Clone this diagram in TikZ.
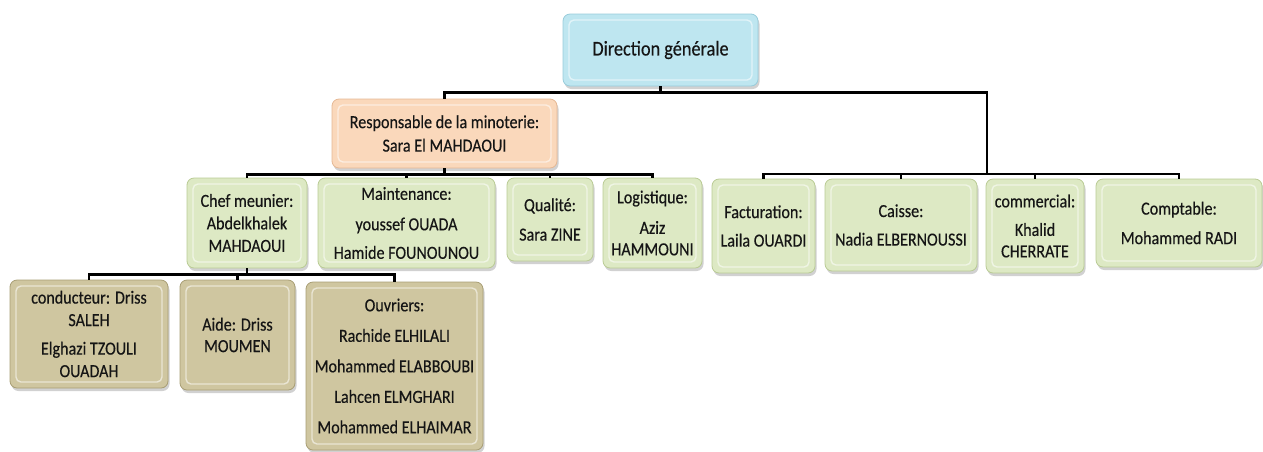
\documentclass[tikz,border=0pt]{standalone}
\usepackage{fontspec}
\setmainfont[FakeStretch=0.87, FakeBold=0.35]{Carlito}
\usetikzlibrary{shadows,calc}
\definecolor{dgfill}{HTML}{BEE6F0}
\definecolor{dgdraw}{HTML}{98CCDA}
\definecolor{rsfill}{HTML}{FAD8BB}
\definecolor{rsdraw}{HTML}{E5B894}
\definecolor{grfill}{HTML}{DDE9C4}
\definecolor{grdraw}{HTML}{B9CB94}
\definecolor{khfill}{HTML}{CFC6A0}
\definecolor{khdraw}{HTML}{A89E74}
\definecolor{txt}{HTML}{151515}
\tikzset{
  box/.style={rectangle, rounded corners=7pt, line width=0.8pt, inner sep=2pt,
    align=center, text=txt, font=\fontsize{18.5}{21.5}\selectfont,
    drop shadow={shadow xshift=1.5pt, shadow yshift=-3pt, opacity=0.3, fill=black!60},
    path picture={
      \draw[white, opacity=0.55, line width=1.4pt, rounded corners=5pt]
        ($(path picture bounding box.south west)+(6pt,6pt)$) rectangle
        ($(path picture bounding box.north east)+(-6pt,-6pt)$);
    }},
  dgbox/.style={box, fill=dgfill, draw=dgdraw, font=\fontsize{21}{24}\selectfont},
  rsbox/.style={box, fill=rsfill, draw=rsdraw},
  grbox/.style={box, fill=grfill, draw=grdraw},
  khbox/.style={box, fill=khfill, draw=khdraw},
  link/.style={draw=black, line width=2.6pt},
}
\begin{document}
\begin{tikzpicture}[x=1pt, y=-1pt]
\useasboundingbox (0,0) rectangle (1263,451);
% top
\node[dgbox, minimum width=195pt, minimum height=72pt] (dg) at (660.5,50) {Direction générale};
\node[rsbox, minimum width=225pt, minimum height=69pt] (rs) at (444.5,133.5) {Responsable de la minoterie:\\[2pt]Sara El MAHDAOUI};
% level 2 left
\node[grbox, minimum width=120pt, minimum height=90pt] (chef) at (247,223) {Chef meunier:\\[1pt]Abdelkhalek\\[1pt]MAHDAOUI};
\node[grbox, minimum width=177pt, minimum height=90pt] (maint) at (406.5,223) {Maintenance:\\[9pt]youssef OUADA\\[7pt]Hamide FOUNOUNOU};
\node[grbox, minimum width=86pt, minimum height=83pt] (qual) at (550,219.5) {Qualité:\\[8pt]Sara ZINE};
\node[grbox, minimum width=99pt, minimum height=90pt] (logi) at (652.5,223) {Logistique:\\[9pt]Aziz\\HAMMOUNI};
% level 2 right
\node[grbox, minimum width=103pt, minimum height=94pt] (fact) at (763.5,226) {Facturation:\\[7pt]Laila OUARDI};
\node[grbox, minimum width=152pt, minimum height=92pt] (caisse) at (901,225) {Caisse:\\[7pt]Nadia ELBERNOUSSI};
\node[grbox, minimum width=98pt, minimum height=94pt] (comm) at (1035,226) {commercial:\\[7pt]Khalid\\CHERRATE};
\node[grbox, minimum width=166pt, minimum height=88pt] (compt) at (1179,223) {Comptable:\\[8pt]Mohammed RADI};
% level 3
\node[khbox, minimum width=158pt, minimum height=108pt] (cond) at (89,334) {conducteur: Driss\\[1pt]SALEH\\[7pt]Elghazi TZOULI\\[1pt]OUADAH};
\node[khbox, minimum width=115pt, minimum height=110pt] (aide) at (237.5,335) {Aide: Driss\\MOUMEN};
\node[khbox, minimum width=177pt, minimum height=168pt] (ouv) at (394.5,366) {Ouvriers:\\[9pt]Rachide ELHILALI\\[9pt]Mohammed ELABBOUBI\\[9pt]Lahcen ELMGHARI\\[9pt]Mohammed ELHAIMAR};
% connectors
\coordinate (rh) at (987,174);
\draw[link] (dg.south) -- ++(0,6) -| (rs.north);
\draw[link] (dg.south) -- ++(0,6) -| (rh);
\foreach \c in {fact,caisse,comm,compt} \draw[link] (rh) -| (\c.north);
\foreach \c in {chef,maint,qual,logi} \draw[link] (rs.south) -- ++(0,6) -| (\c.north);
\foreach \c in {cond,aide,ouv} \draw[link] (chef.south) -- ++(0,6) -| (\c.north);
\end{tikzpicture}
\end{document}
